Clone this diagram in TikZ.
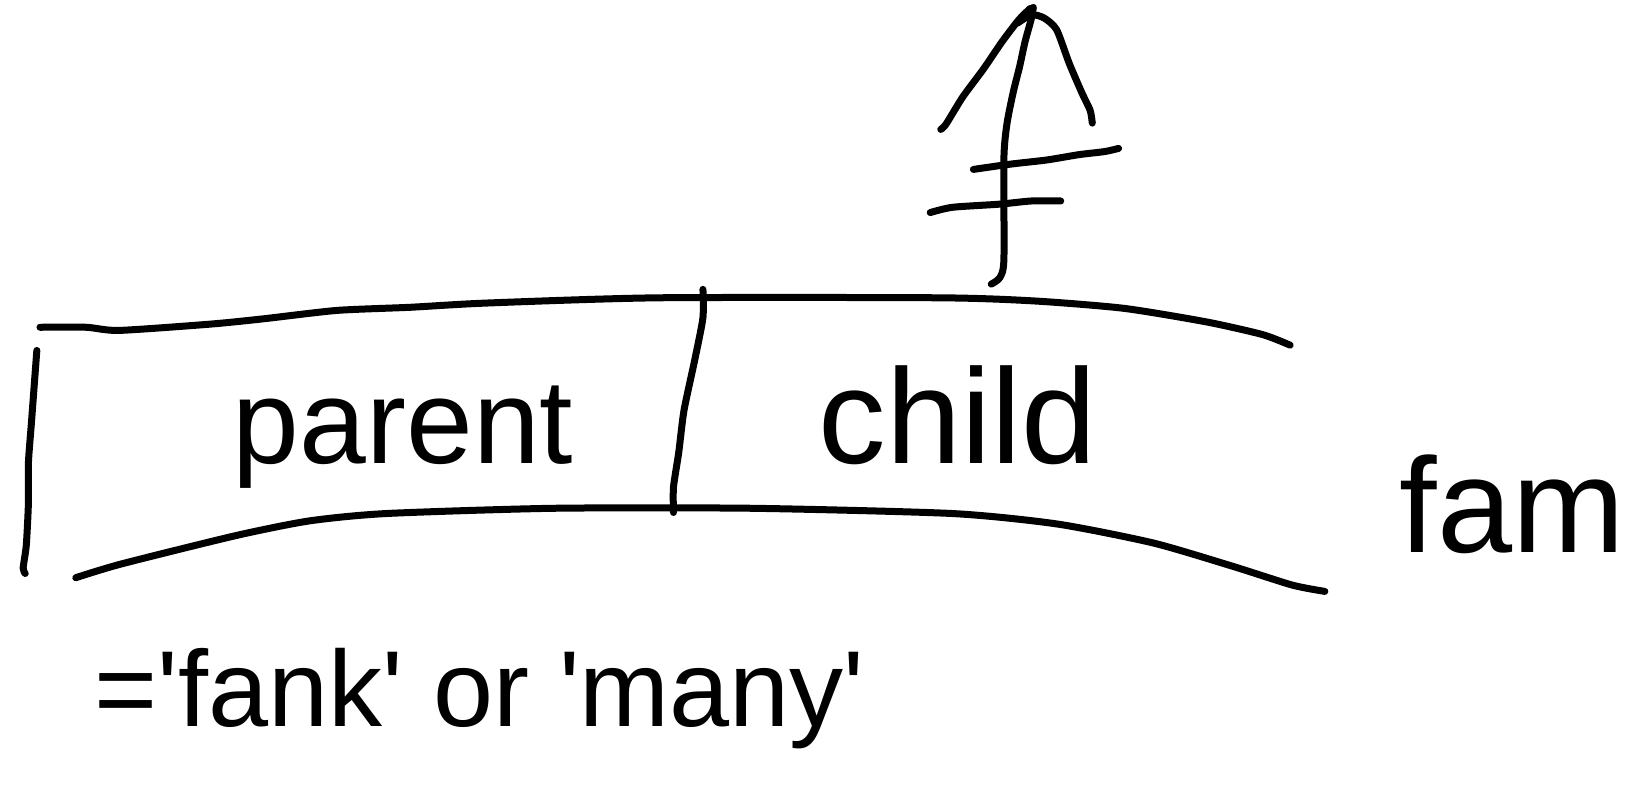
\documentclass[tikz,border=0pt]{standalone}
\usepackage{fontspec}
\setmainfont{Liberation Sans}
\begin{document}
\begin{tikzpicture}[x=1.0523pt,y=-1.0523pt,
  inkline/.style={draw=black,line width=7pt,line cap=round,line join=round},
  hand/.style={inner sep=0pt,font=\fontsize{120}{140}\selectfont}]
\useasboundingbox[fill=white] (0,0) rectangle (1568,746);
% top edge of the band
\path[inkline] plot[smooth,tension=0.4] coordinates {(38,311) (82,311) (113,314) (200,308) (250,303) (320,295) (390,292) (462,288) (625,283) (893,283) (983,286) (1068,293) (1147,306) (1200,318) (1226,328)};
% bottom edge of the band
\path[inkline] plot[smooth,tension=0.4] coordinates {(72,549) (115,536) (224,509) (294,495) (367,488) (527,483) (714,483) (905,488) (1005,498) (1096,516) (1171,538) (1228,556) (1259,562)};
% left edge
\path[inkline] plot[smooth,tension=0.4] coordinates {(35,333) (30,400) (27,440) (27,478) (25,518) (22,540) (24,545)};
% divider
\path[inkline] plot[smooth,tension=0.4] coordinates {(668,275) (668,302) (660,343) (650,390) (645,430) (640,463) (640,487)};
% arrow shaft
\path[inkline] plot[smooth,tension=0.4] coordinates {(942,270) (950,264) (954,247) (954,150) (957,117) (963,87) (969,63) (974,40) (980,18) (982,7)};
% arrow head
\path[inkline] plot[smooth,tension=0.4] coordinates {(894,123) (899,118) (915,92) (935,65) (952,40) (968,19) (979,8)};
\path[inkline] plot[smooth,tension=0.4] coordinates {(967,22) (980,14) (992,17) (1004,28) (1016,60) (1028,88) (1036,105) (1038,117)};
% cross bars
\path[inkline] plot[smooth,tension=0.4] coordinates {(925,161) (960,156) (995,152) (1025,147) (1050,144) (1063,141)};
\path[inkline] plot[smooth,tension=0.4] coordinates {(884,202) (905,197) (950,194) (980,191) (1008,191)};
% texts
\node[hand,anchor=base] (parent) at (383,440) {parent};
\node[hand,anchor=base,font=\fontsize{135}{150}\selectfont] (child) at (910,440) {child};
\node[hand,anchor=base,font=\fontsize{135}{150}\selectfont] (fam) at (1437,525) {fam};
\node[hand,anchor=base west,font=\fontsize{108}{130}\selectfont] (value) at (90,690) {=\textquotesingle fank\textquotesingle{} or \textquotesingle many\textquotesingle};
\end{tikzpicture}
\end{document}
